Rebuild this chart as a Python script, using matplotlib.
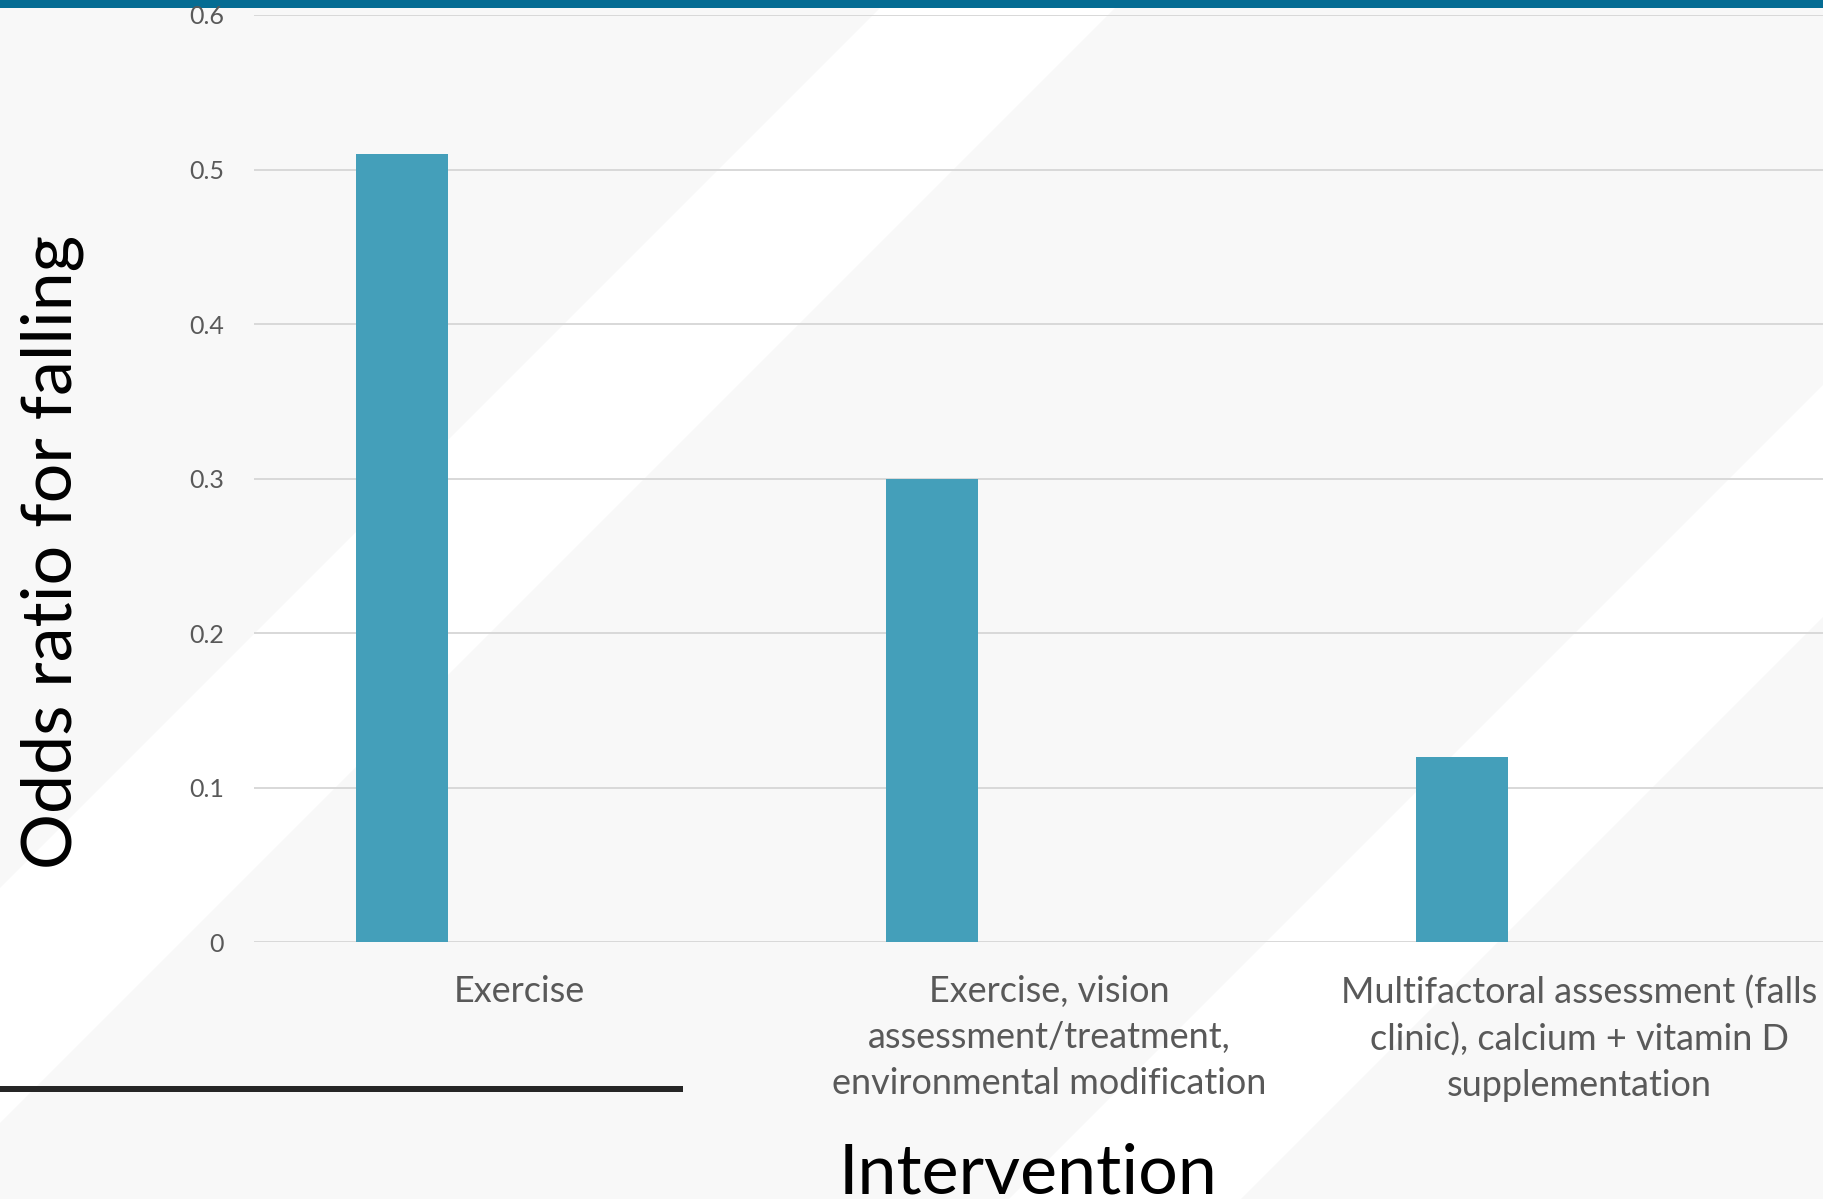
import matplotlib
matplotlib.use("Agg")
import matplotlib.pyplot as plt
from matplotlib.patches import Polygon, Rectangle

# ---- data -------------------------------------------------------------
interventions = [
    "Exercise",
    "Exercise, vision\nassessment/treatment,\nenvironmental modification",
    "Multifactoral assessment (falls\nclinic), calcium + vitamin D\nsupplementation",
]
odds_ratio = [0.51, 0.30, 0.12]
y_ticks = [0.0, 0.1, 0.2, 0.3, 0.4, 0.5, 0.6]
y_tick_labels = ["0", "0.1", "0.2", "0.3", "0.4", "0.5", "0.6"]

# ---- styling ----------------------------------------------------------
W, H, DPI = 1824, 1199, 100
BG_GREY = "#F8F8F8"
BAR_COLOR = "#449FBA"
TEXT_GREY = "#595959"
GRID_GREY = "#D9D9D9"
TOP_BAR = "#056C93"
FONT = ["Lato", "DejaVu Sans"]


def px2pt(px):
    return px * 72.0 / DPI


fig = plt.figure(figsize=(W / DPI, H / DPI), dpi=DPI, facecolor=BG_GREY)

# Slide backdrop: diagonal white bands, header strip and divider rule
bg = fig.add_axes([0, 0, 1, 1], zorder=0)
bg.set_xlim(0, W)
bg.set_ylim(H, 0)
bg.axis("off")
bg.set_facecolor(BG_GREY)


def diag_band(c0, c1):
    # region between the lines x + y = c0 and x + y = c1
    pts = [(c0, 0), (c1, 0), (c1 - H, H), (c0 - H, H)]
    return Polygon(pts, closed=True, facecolor="white", edgecolor="none")


bg.add_patch(diag_band(888, 1123))
bg.add_patch(diag_band(2208, 2440))
bg.add_patch(Rectangle((0, 0), W, 8, facecolor=TOP_BAR, edgecolor="none"))
bg.add_patch(Rectangle((0, 1086), 683, 6, facecolor="#262626", edgecolor="none"))

# ---- chart ------------------------------------------------------------
ax_left, ax_right = 254, 254 + 3 * 530
ax_top, ax_bottom = 15, 942.3
ax = fig.add_axes([ax_left / W, (H - ax_bottom) / H,
                   (ax_right - ax_left) / W, (ax_bottom - ax_top) / H], zorder=1)
ax.set_facecolor("none")

x = list(range(len(interventions)))
bar_offset = -0.221
bar_width = 0.173
ax.bar([xi + bar_offset for xi in x], odds_ratio, width=bar_width,
       color=BAR_COLOR, zorder=3)

ax.set_xlim(-0.5, 2.5)
ax.set_ylim(0, 0.6)
ax.set_yticks(y_ticks)
ax.set_yticklabels(y_tick_labels)
ax.set_xticks(x)
ax.set_xticklabels(interventions, linespacing=1.47)

for lbl in ax.get_yticklabels():
    lbl.set_fontfamily(FONT)
    lbl.set_fontsize(px2pt(25))
    lbl.set_color(TEXT_GREY)
for lbl in ax.get_xticklabels():
    lbl.set_fontfamily(FONT)
    lbl.set_fontsize(px2pt(36))
    lbl.set_color(TEXT_GREY)

ax.tick_params(axis="both", length=0)
ax.tick_params(axis="y", pad=px2pt(30))
ax.tick_params(axis="x", pad=px2pt(33))
ax.grid(axis="y", color=GRID_GREY, linewidth=px2pt(2), zorder=0)
ax.set_axisbelow(True)
for s in ax.spines.values():
    s.set_visible(False)

# Axis titles
fig.text(72 / W, (H - 552) / H, "Odds ratio for falling", rotation=90,
         rotation_mode="anchor", ha="center", va="baseline",
         fontsize=px2pt(70), family=FONT, color="black")
fig.text(1028 / W, (H - 1193) / H, "Intervention", ha="center", va="baseline",
         fontsize=px2pt(70), family=FONT, color="black")

fig.savefig("out.png", dpi=DPI, facecolor=BG_GREY)
